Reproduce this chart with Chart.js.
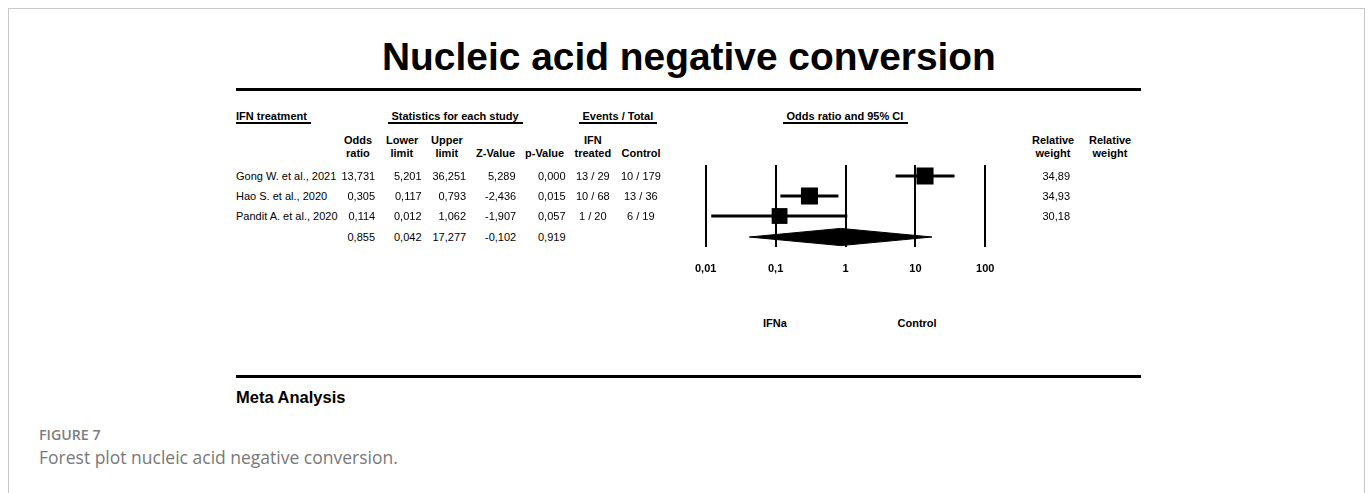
<!DOCTYPE html>
<html>
<head>
<meta charset="utf-8">
<title>Nucleic acid negative conversion</title>
<script src="https://cdn.jsdelivr.net/npm/chart.js@4.4.1/dist/chart.umd.min.js"></script>
<style>
  html, body { margin: 0; padding: 0; background: #fff; }
  body { width: 1372px; height: 493px; position: relative; overflow: hidden;
         font-family: "Liberation Sans", Arial, sans-serif; color: #000; }
  #frame { position: absolute; left: 8px; top: 8px; width: 1357px; height: 500px;
           border: 1px solid #c8c8c8; border-bottom: none; box-sizing: border-box; }
  .t { position: absolute; white-space: nowrap; font-size: 11px; line-height: 14px; }
  .b { font-weight: bold; }
  .rule { position: absolute; background: #000; }
  #plot { position: absolute; left: 680px; top: 150px; }
  .cap { position: absolute; white-space: nowrap; font-family: "Open Sans", sans-serif; }
</style>
</head>
<body>
<div id="frame"></div>
<canvas id="plot" width="340" height="130"></canvas>
<script>
// ---- study data ----
const studies     = ['Gong W. et al., 2021', 'Hao S. et al., 2020', 'Pandit A. et al., 2020'];
const oddsRatio   = [13.731, 0.305, 0.114];
const lowerLimit  = [5.201, 0.117, 0.012];
const upperLimit  = [36.251, 0.793, 1.062];
const zValue      = [5.289, -2.436, -1.907];
const pValue      = [0.000, 0.015, 0.057];
const ifnTreated  = ['13 / 29', '10 / 68', '1 / 20'];
const controlGrp  = ['10 / 179', '13 / 36', '6 / 19'];
const relWeight   = [34.89, 34.93, 30.18];

// pooled estimate: odds ratio, lower, upper, Z, p
const pooledStats = [0.855, 0.042, 17.277, -0.102, 0.919];

// axis ticks
const xTickValues = [0.01, 0.1, 1, 10, 100];
const xTickLabels = ['0,01', '0,1', '1', '10', '100'];

// row slots on the vertical axis (top to bottom)
const studyRows = [0, 1, 2];
const pooledRow = 3.05;

// ---- text helpers ----
const fmt = (v, d) => v.toFixed(d).replace('.', ',');

function put(txt, x, y, align, cls, size, lh) {
  const d = document.createElement('div');
  d.className = 't ' + (cls || '');
  d.textContent = txt;
  if (size) { d.style.fontSize = size + 'px'; d.style.lineHeight = (lh || Math.round(size * 1.3)) + 'px'; }
  document.body.appendChild(d);
  const w = d.offsetWidth, h = d.offsetHeight;
  d.style.left = (align === 'right' ? x - w : align === 'center' ? x - w / 2 : x) + 'px';
  d.style.top = (y - h / 2) + 'px';
  return d;
}
function rule(x1, x2, y, th) {
  const d = document.createElement('div');
  d.className = 'rule';
  d.style.left = x1 + 'px'; d.style.width = (x2 - x1) + 'px';
  d.style.top = (y - th / 2) + 'px'; d.style.height = th + 'px';
  document.body.appendChild(d);
}

// title and rules
put('Nucleic acid negative conversion', 689, 57, 'center', 'b', 38.9, 46);
rule(236, 1141, 89.5, 3);
rule(236, 1141, 376.5, 3);

// group headers
put('IFN treatment', 236, 116, 'left', 'b');            rule(236, 311, 123, 1.6);
put('Statistics for each study', 455, 116, 'center', 'b'); rule(388, 523, 123, 1.6);
put('Events / Total', 618, 116, 'center', 'b');          rule(579, 657, 123, 1.6);
put('Odds ratio and 95% CI', 845, 116, 'center', 'b');   rule(783, 908, 123, 1.6);

// column headers
put('Odds', 358, 140, 'center', 'b');   put('ratio', 358, 153, 'center', 'b');
put('Lower', 402, 140, 'center', 'b');  put('limit', 402, 153, 'center', 'b');
put('Upper', 447, 140, 'center', 'b');  put('limit', 447, 153, 'center', 'b');
put('Z-Value', 495.5, 153, 'center', 'b');
put('p-Value', 544.5, 153, 'center', 'b');
put('IFN', 593, 140, 'center', 'b');    put('treated', 593, 153, 'center', 'b');
put('Control', 641, 153, 'center', 'b');
put('Relative', 1053, 140, 'center', 'b'); put('weight', 1053, 153, 'center', 'b');
put('Relative', 1110, 140, 'center', 'b'); put('weight', 1110, 153, 'center', 'b');

// study rows
const rowY = [176, 196, 216];
studies.forEach((s, i) => {
  const y = rowY[i];
  put(s, 236, y, 'left');
  put(fmt(oddsRatio[i], 3), 375.5, y, 'right');
  put(fmt(lowerLimit[i], 3), 422, y, 'right');
  put(fmt(upperLimit[i], 3), 466.5, y, 'right');
  put(fmt(zValue[i], 3), 516, y, 'right');
  put(fmt(pValue[i], 3), 566, y, 'right');
  put(ifnTreated[i], 593, y, 'center');
  put(controlGrp[i], 641, y, 'center');
  put(fmt(relWeight[i], 2), 1070.5, y, 'right');
});
// pooled row
[375.5, 422, 466.5, 516, 566].forEach((x, k) => put(fmt(pooledStats[k], 3), x, 237, 'right'));

// favours labels
put('IFNa', 775, 323, 'center', 'b');
put('Control', 917, 323, 'center', 'b');

// footer
put('Meta Analysis', 236, 397, 'left', 'b', 16.5, 20);
const f1 = put('FIGURE 7', 39, 435, 'left', '', 14.2, 18);
f1.classList.add('cap'); f1.style.color = '#7d7d7d'; f1.style.fontWeight = '600';
const f2 = put('Forest plot nucleic acid negative conversion.', 39, 457, 'left', '', 17.5, 22);
f2.classList.add('cap'); f2.style.color = '#787878';

// ---- forest plot ----
const boxSide = w => 2.88 * Math.sqrt(w);          // square side in px from weight
const diamondHalf = 0.43;                            // half height of pooled diamond, row units

const datasets = [];
datasets.push({
  label: 'Studies',
  data: oddsRatio.map((v, i) => ({ x: v, y: studyRows[i] })),
  pointStyle: 'rect',
  pointRadius: relWeight.map(w => boxSide(w) / (2 * Math.SQRT1_2)),
  pointBackgroundColor: '#000',
  pointBorderWidth: 0,
  showLine: false,
  order: 0
});
studies.forEach((s, i) => {
  datasets.push({
    label: s,
    data: [{ x: lowerLimit[i], y: studyRows[i] }, { x: upperLimit[i], y: studyRows[i] }],
    showLine: true,
    borderColor: '#000',
    borderWidth: 3,
    pointRadius: 0,
    order: 2
  });
});
datasets.push({
  label: 'Pooled',
  data: [
    { x: pooledStats[1], y: pooledRow },
    { x: pooledStats[0], y: pooledRow - diamondHalf },
    { x: pooledStats[2], y: pooledRow },
    { x: pooledStats[0], y: pooledRow + diamondHalf },
    { x: pooledStats[1], y: pooledRow }
  ],
  showLine: true,
  fill: 'shape',
  backgroundColor: '#000',
  borderColor: '#000',
  borderWidth: 1,
  pointRadius: 0,
  tension: 0,
  order: 1
});

new Chart(document.getElementById('plot'), {
  type: 'scatter',
  data: { datasets },
  options: {
    responsive: false,
    devicePixelRatio: 1,
    animation: false,
    events: [],
    clip: false,
    layout: { padding: { left: 24, right: 34.7, top: 15, bottom: 3 } },
    plugins: { legend: { display: false }, tooltip: { enabled: false } },
    scales: {
      x: {
        type: 'logarithmic',
        min: 0.01,
        max: 100,
        afterBuildTicks: s => { s.ticks = xTickValues.map(v => ({ value: v })); },
        afterFit: s => { s.height = 30; },
        grid: { color: '#000', lineWidth: 2, drawTicks: false },
        border: { display: false },
        ticks: {
          padding: 15,
          color: '#000',
          maxRotation: 0,
          autoSkip: false,
          font: { family: '"Liberation Sans", Arial, sans-serif', size: 11, weight: 'bold' },
          callback: (v, i) => xTickLabels[i]
        }
      },
      y: {
        type: 'linear',
        min: -0.55,
        max: 3.55,
        reverse: true,
        display: false
      }
    }
  }
});
</script>
</body>
</html>
